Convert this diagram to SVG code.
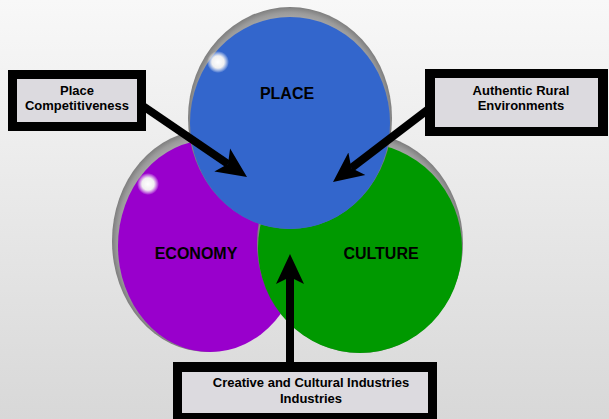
<svg xmlns="http://www.w3.org/2000/svg" width="609" height="419" viewBox="0 0 609 419">
<defs>
<linearGradient id="bg" x1="0" y1="0" x2="0" y2="1">
<stop offset="0" stop-color="#f8f8f8"/>
<stop offset="1" stop-color="#d8d8d8"/>
</linearGradient>
<radialGradient id="rim" cx="0.5" cy="0.5" r="0.5">
<stop offset="0.85" stop-color="#b4b4b4"/>
<stop offset="0.95" stop-color="#9a9a9a"/>
<stop offset="1" stop-color="#7e7e7e"/>
</radialGradient>
<radialGradient id="glow" cx="0.5" cy="0.5" r="0.5">
<stop offset="0" stop-color="#ffffff"/>
<stop offset="0.55" stop-color="#f0f0f0"/>
<stop offset="1" stop-color="#ffffff" stop-opacity="0"/>
</radialGradient>
<marker id="head" viewBox="0 0 30 30" markerWidth="30" markerHeight="30" refX="7" refY="15" orient="auto" markerUnits="userSpaceOnUse">
<path d="M0,1 L30,15 L0,29 L7,15 Z" fill="#000"/>
</marker>
</defs>
<style>
.box{fill:#000}
.inner{fill:#dcdadf}
.lbl{font-family:"Liberation Sans",Arial,sans-serif;font-weight:bold;font-size:13px;fill:#000;text-anchor:middle}
.big{font-family:"Liberation Sans",Arial,sans-serif;font-weight:bold;font-size:16px;fill:#000;text-anchor:middle}
.conn{stroke:#000;stroke-width:8;fill:none;marker-end:url(#head)}
</style>
<rect x="0" y="0" width="609" height="419" fill="url(#bg)"/>

<g id="economy">
<ellipse cx="207" cy="241" rx="95" ry="111" fill="url(#rim)"/>
<ellipse cx="210" cy="246" rx="92" ry="106" fill="#9900cc"/>
<circle cx="148" cy="184" r="11" fill="url(#glow)"/>
</g>
<g id="culture">
<ellipse cx="360" cy="243" rx="103" ry="110" fill="url(#rim)"/>
<ellipse cx="360" cy="248" rx="102" ry="105" fill="#009900"/>
</g>
<g id="place">
<ellipse cx="290" cy="118" rx="102" ry="111" fill="url(#rim)"/>
<ellipse cx="290" cy="123" rx="100" ry="106" fill="#3366cc"/>
<circle cx="218" cy="62" r="11" fill="url(#glow)"/>
<text class="big" x="287" y="99">PLACE</text>
</g>
<g id="economy-label"><text class="big" x="196" y="259">ECONOMY</text></g>
<g id="culture-label"><text class="big" x="381" y="259">CULTURE</text></g>

<g id="connectors">
<line class="conn" x1="140" y1="104" x2="228" y2="164"/>
<line class="conn" x1="430" y1="108" x2="351.3" y2="168"/>
<line class="conn" x1="290" y1="366" x2="290" y2="277"/>
</g>

<g id="box-place">
<rect class="box" x="8" y="70" width="138" height="61"/>
<rect class="inner" x="17" y="79" width="120" height="43"/>
<text class="lbl" x="77" y="95">Place</text>
<text class="lbl" x="77" y="110">Competitiveness</text>
</g>
<g id="box-rural">
<rect class="box" x="425" y="69" width="183" height="67"/>
<rect class="inner" x="435" y="78" width="163" height="49"/>
<text class="lbl" x="521" y="95">Authentic Rural</text>
<text class="lbl" x="521" y="110">Environments</text>
</g>
<g id="box-creative">
<rect class="box" x="173" y="362" width="264" height="60"/>
<rect class="inner" x="182" y="372" width="246" height="41"/>
<text class="lbl" x="311" y="387">Creative and Cultural Industries</text>
<text class="lbl" x="311" y="403">Industries</text>
</g>
</svg>
